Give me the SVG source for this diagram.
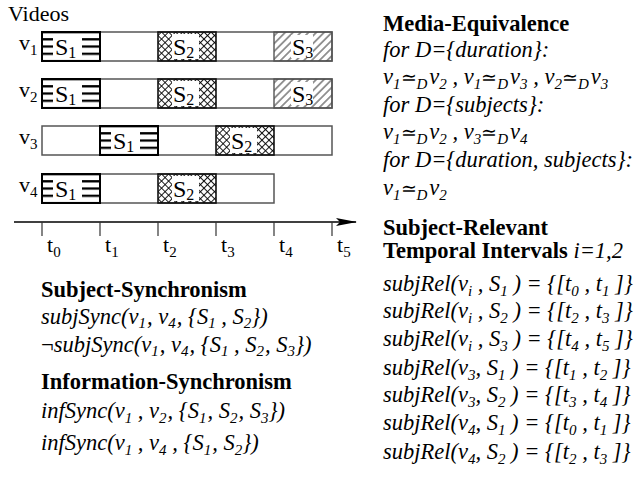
<svg xmlns="http://www.w3.org/2000/svg" width="640" height="487" viewBox="0 0 640 487">
<style>
text { font-family: "Liberation Serif", "Times New Roman", serif; fill: #000; }
.lbl { font-size: 22px; }
.seg { font-size: 24px; }
.ss { font-size: 16px; }
.s { font-size: 15px; }
.h { font-size: 22.5px; font-weight: bold; }
.f { font-size: 22.5px; font-style: italic; }
.n { font-style: normal; font-size: 19px; }
.bar { fill: #fff; stroke: #555; stroke-width: 1.5; }
.tick { stroke: #333; stroke-width: 1.2; }
</style>
<defs>
<pattern id="hl" x="0" y="6.15" width="10" height="7.25" patternUnits="userSpaceOnUse"><rect width="10" height="2.3" fill="#000"/></pattern>
<pattern id="xh" width="5" height="5" patternUnits="userSpaceOnUse" patternTransform="rotate(45)"><path d="M0,2.5H5M2.5,0V5" stroke="#000" stroke-width="0.9"/></pattern>
<pattern id="dh" width="5.5" height="5.5" patternUnits="userSpaceOnUse" patternTransform="rotate(45)"><path d="M2.75,0V5.5" stroke="#333" stroke-width="1"/></pattern>
<g id="segS1"><rect width="58" height="29" fill="url(#hl)"/><rect x="11" y="2" width="29" height="25" fill="#fff"/><rect width="58" height="29" fill="none" stroke="#000" stroke-width="2"/></g>
<g id="segS2"><rect width="58" height="29" fill="url(#xh)"/><rect x="14" y="2" width="27" height="25" fill="#fff"/><rect width="58" height="29" fill="none" stroke="#111" stroke-width="1.6"/></g>
<g id="segS3"><rect width="58" height="29" fill="url(#dh)"/><rect x="17" y="3" width="22" height="23" fill="#fff"/><rect width="58" height="29" fill="none" stroke="#555" stroke-width="1.4"/></g>
<marker id="arr" markerWidth="22" markerHeight="10" refX="20" refY="5" orient="auto" markerUnits="userSpaceOnUse"><path d="M0,1 L21,5 L0,9 L4,5 Z" fill="#000"/></marker>
</defs>

<text class="lbl" x="8" y="21">Videos</text>

<g id="video-v1">
<text class="lbl" x="19" y="50">v<tspan class="s" dy="5">1</tspan></text>
<rect class="bar" x="42" y="32" width="290" height="29"/>
<use href="#segS1" x="42" y="32"/>
<use href="#segS2" x="158" y="32"/>
<use href="#segS3" x="274" y="32"/>
<text class="seg" x="55" y="55">S<tspan class="ss" dy="3">1</tspan></text>
<text class="seg" x="173" y="55">S<tspan class="ss" dy="3">2</tspan></text>
<text class="seg" x="292" y="55">S<tspan class="ss" dy="3">3</tspan></text>
</g>

<g id="video-v2">
<text class="lbl" x="19" y="97">v<tspan class="s" dy="5">2</tspan></text>
<rect class="bar" x="42" y="79" width="290" height="29"/>
<use href="#segS1" x="42" y="79"/>
<use href="#segS2" x="158" y="79"/>
<use href="#segS3" x="274" y="79"/>
<text class="seg" x="55" y="102">S<tspan class="ss" dy="3">1</tspan></text>
<text class="seg" x="173" y="102">S<tspan class="ss" dy="3">2</tspan></text>
<text class="seg" x="292" y="102">S<tspan class="ss" dy="3">3</tspan></text>
</g>

<g id="video-v3">
<text class="lbl" x="19" y="144">v<tspan class="s" dy="5">3</tspan></text>
<rect class="bar" x="42" y="126" width="290" height="29"/>
<use href="#segS1" x="100" y="126"/>
<use href="#segS2" x="216" y="126"/>
<text class="seg" x="113" y="149">S<tspan class="ss" dy="3">1</tspan></text>
<text class="seg" x="231" y="149">S<tspan class="ss" dy="3">2</tspan></text>
</g>

<g id="video-v4">
<text class="lbl" x="19" y="192">v<tspan class="s" dy="5">4</tspan></text>
<rect class="bar" x="42" y="174" width="232" height="29"/>
<use href="#segS1" x="42" y="174"/>
<use href="#segS2" x="158" y="174"/>
<text class="seg" x="55" y="197">S<tspan class="ss" dy="3">1</tspan></text>
<text class="seg" x="173" y="197">S<tspan class="ss" dy="3">2</tspan></text>
</g>

<g id="connectors">
<line x1="14" y1="222" x2="356" y2="222" stroke="#000" stroke-width="1.3" marker-end="url(#arr)"/>
<line class="tick" x1="42" y1="222" x2="42" y2="236"/>
<line class="tick" x1="100" y1="222" x2="100" y2="236"/>
<line class="tick" x1="158" y1="222" x2="158" y2="236"/>
<line class="tick" x1="216" y1="222" x2="216" y2="236"/>
<line class="tick" x1="274" y1="222" x2="274" y2="236"/>
<line class="tick" x1="332" y1="222" x2="332" y2="236"/>
</g>

<g id="time-labels">
<text class="lbl" x="47" y="252">t<tspan class="s" dy="5">0</tspan></text>
<text class="lbl" x="105" y="252">t<tspan class="s" dy="5">1</tspan></text>
<text class="lbl" x="163" y="252">t<tspan class="s" dy="5">2</tspan></text>
<text class="lbl" x="221" y="252">t<tspan class="s" dy="5">3</tspan></text>
<text class="lbl" x="279" y="252">t<tspan class="s" dy="5">4</tspan></text>
<text class="lbl" x="337" y="252">t<tspan class="s" dy="5">5</tspan></text>
</g>

<g id="subject-synchronism">
<text class="h" x="41" y="297">Subject-Synchronism</text>
<text class="f" x="41" y="324">subjSync(v<tspan class="s" dy="4">1</tspan><tspan dy="-4" dx="1">, v</tspan><tspan class="s" dy="4">4</tspan><tspan dy="-4" dx="1">, {S</tspan><tspan class="s" dy="4">1</tspan><tspan dy="-4"> , S</tspan><tspan class="s" dy="4">2</tspan><tspan dy="-4">})</tspan></text>
<text class="f" x="41" y="352"><tspan font-style="normal">¬</tspan>subjSync(v<tspan class="s" dy="4">1</tspan><tspan dy="-4" dx="1">, v</tspan><tspan class="s" dy="4">4</tspan><tspan dy="-4" dx="1">, {S</tspan><tspan class="s" dy="4">1</tspan><tspan dy="-4"> , S</tspan><tspan class="s" dy="4">2</tspan><tspan dy="-4" dx="1">, S</tspan><tspan class="s" dy="4">3</tspan><tspan dy="-4">})</tspan></text>
</g>

<g id="information-synchronism">
<text class="h" x="41" y="389">Information-Synchronism</text>
<text class="f" x="41" y="418">infSync(v<tspan class="s" dy="5">1</tspan><tspan dy="-5"> , v</tspan><tspan class="s" dy="5">2</tspan><tspan dy="-5" dx="1">, {S</tspan><tspan class="s" dy="5">1</tspan><tspan dy="-5" dx="1">, S</tspan><tspan class="s" dy="5">2</tspan><tspan dy="-5" dx="1">, S</tspan><tspan class="s" dy="5">3</tspan><tspan dy="-5">})</tspan></text>
<text class="f" x="41" y="450">infSync(v<tspan class="s" dy="5">1</tspan><tspan dy="-5"> , v</tspan><tspan class="s" dy="5">4</tspan><tspan dy="-5"> , {S</tspan><tspan class="s" dy="5">1</tspan><tspan dy="-5" dx="1">, S</tspan><tspan class="s" dy="5">2</tspan><tspan dy="-5">})</tspan></text>
</g>

<g id="media-equivalence">
<text class="h" x="383" y="31">Media-Equivalence</text>
<text class="f" x="383" y="57">for D={duration}:</text>
<text class="f" x="383" y="84">v<tspan class="s" dy="5">1</tspan><tspan dy="-5" class="n">≃</tspan><tspan class="s" dy="5">D</tspan><tspan dy="-5" dx="2">v</tspan><tspan class="s" dy="5">2</tspan><tspan dy="-5"> , v</tspan><tspan class="s" dy="5">1</tspan><tspan dy="-5" class="n">≃</tspan><tspan class="s" dy="5">D</tspan><tspan dy="-5" dx="2">v</tspan><tspan class="s" dy="5">3</tspan><tspan dy="-5"> , v</tspan><tspan class="s" dy="5">2</tspan><tspan dy="-5" class="n">≃</tspan><tspan class="s" dy="5">D</tspan><tspan dy="-5" dx="2">v</tspan><tspan class="s" dy="5">3</tspan></text>
<text class="f" x="383" y="112">for D={subjects}:</text>
<text class="f" x="383" y="139">v<tspan class="s" dy="5">1</tspan><tspan dy="-5" class="n">≃</tspan><tspan class="s" dy="5">D</tspan><tspan dy="-5" dx="2">v</tspan><tspan class="s" dy="5">2</tspan><tspan dy="-5"> , v</tspan><tspan class="s" dy="5">3</tspan><tspan dy="-5" class="n">≃</tspan><tspan class="s" dy="5">D</tspan><tspan dy="-5" dx="2">v</tspan><tspan class="s" dy="5">4</tspan></text>
<text class="f" x="383" y="167">for D={duration, subjects}:</text>
<text class="f" x="383" y="195">v<tspan class="s" dy="5">1</tspan><tspan dy="-5" class="n">≃</tspan><tspan class="s" dy="5">D</tspan><tspan dy="-5" dx="2">v</tspan><tspan class="s" dy="5">2</tspan></text>
</g>

<g id="subject-relevant">
<text class="h" x="383" y="235">Subject-Relevant</text>
<text class="h" x="383" y="258">Temporal Intervals <tspan font-weight="normal" font-style="italic">i=1,2</tspan></text>
<text class="f" x="383" y="291">subjRel(v<tspan class="s" dy="5">i</tspan><tspan dy="-5"> , S</tspan><tspan class="s" dy="5">1</tspan><tspan dy="-5"> ) = {[t</tspan><tspan class="s" dy="5">0</tspan><tspan dy="-5"> , t</tspan><tspan class="s" dy="5">1</tspan><tspan dy="-5"> ]}</tspan></text>
<text class="f" x="383" y="318">subjRel(v<tspan class="s" dy="5">i</tspan><tspan dy="-5"> , S</tspan><tspan class="s" dy="5">2</tspan><tspan dy="-5"> ) = {[t</tspan><tspan class="s" dy="5">2</tspan><tspan dy="-5"> , t</tspan><tspan class="s" dy="5">3</tspan><tspan dy="-5"> ]}</tspan></text>
<text class="f" x="383" y="346">subjRel(v<tspan class="s" dy="5">i</tspan><tspan dy="-5"> , S</tspan><tspan class="s" dy="5">3</tspan><tspan dy="-5"> ) = {[t</tspan><tspan class="s" dy="5">4</tspan><tspan dy="-5"> , t</tspan><tspan class="s" dy="5">5</tspan><tspan dy="-5"> ]}</tspan></text>
<text class="f" x="383" y="375">subjRel(v<tspan class="s" dy="5">3</tspan><tspan dy="-5">, S</tspan><tspan class="s" dy="5">1</tspan><tspan dy="-5"> ) = {[t</tspan><tspan class="s" dy="5">1</tspan><tspan dy="-5"> , t</tspan><tspan class="s" dy="5">2</tspan><tspan dy="-5"> ]}</tspan></text>
<text class="f" x="383" y="402">subjRel(v<tspan class="s" dy="5">3</tspan><tspan dy="-5">, S</tspan><tspan class="s" dy="5">2</tspan><tspan dy="-5"> ) = {[t</tspan><tspan class="s" dy="5">3</tspan><tspan dy="-5"> , t</tspan><tspan class="s" dy="5">4</tspan><tspan dy="-5"> ]}</tspan></text>
<text class="f" x="383" y="430">subjRel(v<tspan class="s" dy="5">4</tspan><tspan dy="-5">, S</tspan><tspan class="s" dy="5">1</tspan><tspan dy="-5"> ) = {[t</tspan><tspan class="s" dy="5">0</tspan><tspan dy="-5"> , t</tspan><tspan class="s" dy="5">1</tspan><tspan dy="-5"> ]}</tspan></text>
<text class="f" x="383" y="459">subjRel(v<tspan class="s" dy="5">4</tspan><tspan dy="-5">, S</tspan><tspan class="s" dy="5">2</tspan><tspan dy="-5"> ) = {[t</tspan><tspan class="s" dy="5">2</tspan><tspan dy="-5"> , t</tspan><tspan class="s" dy="5">3</tspan><tspan dy="-5"> ]}</tspan></text>
</g>
</svg>
